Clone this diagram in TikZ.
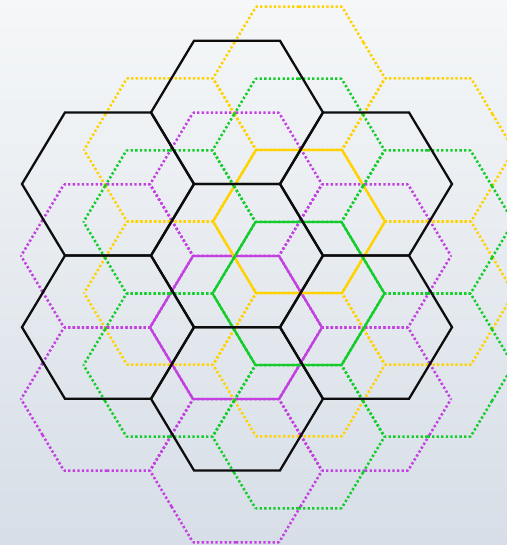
\documentclass[tikz,border=0pt]{standalone}
\usepackage{tikz}
\definecolor{ink}    {HTML}{0D0D0D}
\definecolor{gold}   {HTML}{FFD200}
\definecolor{leaf}   {HTML}{14CC2C}
\definecolor{plum}   {HTML}{C241E0}
\definecolor{bgtop}  {HTML}{F5F7F8}
\definecolor{bgbot}  {HTML}{D7DEE7}
\tikzset{
  cell/.pic       ={\draw[pic actions] (86,0) -- (43,71.6) -- (-43,71.6)
                    -- (-86,0) -- (-43,-71.6) -- (43,-71.6) -- cycle;},
  % each side drawn from its midpoint, so shared sides dot alike
  dotcell/.pic    ={\draw[pic actions]
                    (64.5,35.8) -- (86,0)     (64.5,35.8) -- (43,71.6)
                    (0,71.6) -- (43,71.6)     (0,71.6) -- (-43,71.6)
                    (-64.5,35.8) -- (-43,71.6) (-64.5,35.8) -- (-86,0)
                    (-64.5,-35.8) -- (-86,0)  (-64.5,-35.8) -- (-43,-71.6)
                    (0,-71.6) -- (-43,-71.6)  (0,-71.6) -- (43,-71.6)
                    (64.5,-35.8) -- (43,-71.6) (64.5,-35.8) -- (86,0);},
  hexline/.style  ={line width=1.3pt, line join=miter},
  dotline/.style  ={hexline, line width=1.45pt, dash pattern=on 1.3pt off 1.3pt},
  blackcell/.style={hexline, draw=ink},
  goldcell/.style ={hexline, draw=gold},
  goldring/.style ={dotline, draw=gold},
  leafcell/.style ={hexline, draw=leaf},
  leafring/.style ={dotline, draw=leaf},
  plumcell/.style ={hexline, draw=plum},
  plumring/.style ={dotline, draw=plum},
}
\newcommand{\ringcells}{0/-143.2,129/-71.6,129/71.6,0/143.2,-129/71.6,-129/-71.6}

\begin{document}
\begin{tikzpicture}[x=0.02cm,y=-0.02cm]
  \shade[top color=bgtop,bottom color=bgbot] (0,0) rectangle (507,545);
  \useasboundingbox (0,0) rectangle (507,545);
  \clip (0,0) rectangle (507,545);
  % magenta flower
  \begin{scope}[shift={(236,327.5)}]
    \foreach \dx/\dy in \ringcells
      \pic[plumring] at (\dx,\dy) {dotcell};
    \pic[plumcell] at (0,0) {cell};
  \end{scope}
  % yellow flower
  \begin{scope}[shift={(299,221.5)}]
    \foreach \dx/\dy in \ringcells
      \pic[goldring] at (\dx,\dy) {dotcell};
    \pic[goldcell] at (0,0) {cell};
  \end{scope}
  % green flower
  \begin{scope}[shift={(298.5,293.5)}]
    \foreach \dx/\dy in \ringcells
      \pic[leafring] at (\dx,\dy) {dotcell};
    \pic[leafcell] at (0,0) {cell};
  \end{scope}
  % black flower
  \begin{scope}[shift={(237,255.6)}]
    \foreach \dx/\dy in \ringcells
      \pic[blackcell] at (\dx,\dy) {cell};
    \pic[blackcell] at (0,0) {cell};
  \end{scope}
\end{tikzpicture}
\end{document}
